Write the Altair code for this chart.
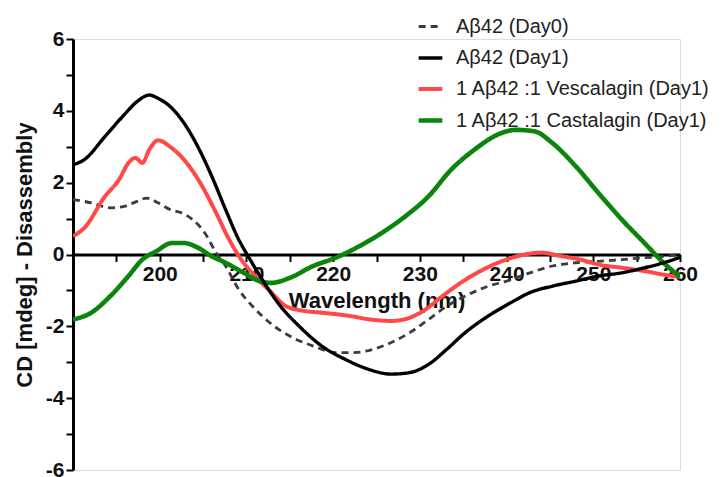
import altair as alt
import pandas as pd

# Series names (legend order)
series_names = [
    "Aβ42 (Day0)",
    "Aβ42 (Day1)",
    "1 Aβ42 :1 Vescalagin (Day1)",
    "1 Aβ42 :1 Castalagin (Day1)",
]
series_colors = ["#3c3c3c", "#000000", "#ff4848", "#0b840b"]
series_dash = [[7, 5], [1, 0], [1, 0], [1, 0]]
series_width = [2.8, 4.6, 4.6, 4.6]

# Aβ42, day 0
day0_wl = [190, 192.1, 194.3, 195.9, 197.4, 198.5, 199.8, 201.2, 202.5, 203.8, 205.2, 206.5,
           207.6, 209.1, 210.7, 212.9, 215, 217.7, 220.3, 222.4, 224.6, 226.7, 228.8, 231,
           233.1, 235.2, 237.9, 240, 242.7, 245.3, 248, 250.6, 253.3, 255.9, 258.1, 260]
day0_cd = [1.53, 1.44, 1.3, 1.34, 1.48, 1.57, 1.44, 1.25, 1.16, 0.97, 0.6, 0.05,
           -0.32, -0.97, -1.44, -1.94, -2.27, -2.55, -2.73, -2.73, -2.64, -2.45, -2.18, -1.81,
           -1.44, -1.16, -0.88, -0.74, -0.51, -0.32, -0.23, -0.19, -0.14, -0.09, -0.05, 0.0]

# Aβ42, day 1
day1_wl = [190, 191.3, 193.7, 195.9, 197.4, 198.8, 199.8, 201.2, 202.8, 204.4, 206, 207.6,
           209.1, 210.2, 211.8, 213.9, 216.1, 218.7, 221.4, 224, 226.7, 228.8, 231, 233.1,
           235.2, 237.9, 240.5, 242.7, 245.3, 248, 250.6, 253.3, 255.9, 258.1, 260]
day1_cd = [2.5, 2.64, 3.29, 3.89, 4.26, 4.44, 4.35, 4.12, 3.66, 3.0, 2.18, 1.25,
           0.42, -0.05, -0.69, -1.43, -2.0, -2.55, -2.92, -3.19, -3.33, -3.29, -3.06, -2.64,
           -2.18, -1.71, -1.34, -1.06, -0.88, -0.74, -0.6, -0.51, -0.37, -0.23, -0.08]

# Aβ42 + vescalagin, day 1
vesc_wl = [190, 191.3, 193.7, 195.3, 196.4, 197.2, 198, 198.8, 199.8, 201.2, 202.8, 204.9,
           206.5, 208, 209.4, 211, 212.9, 214.5, 216.6, 218.7, 221.9, 224, 226.7, 228.3,
           230.4, 232.6, 234.7, 237.3, 240, 242.1, 244, 246.4, 248.5, 250.6, 253.3, 255.9,
           258.1, 260]
vesc_cd = [0.51, 0.74, 1.62, 2.08, 2.55, 2.69, 2.55, 2.92, 3.18, 3.0, 2.64, 1.9,
           1.16, 0.42, -0.14, -0.6, -1.06, -1.43, -1.57, -1.62, -1.71, -1.8, -1.85, -1.8,
           -1.57, -1.16, -0.79, -0.42, -0.14, 0.0, 0.05, -0.05, -0.14, -0.28, -0.37, -0.46,
           -0.56, -0.62]

# Aβ42 + castalagin, day 1
cast_wl = [190, 192.1, 194.3, 196.4, 198, 199.6, 201.4, 202.8, 204.4, 206, 207.6, 209.7,
           211.5, 212.9, 215, 217.7, 220.3, 223, 225.6, 228.3, 231, 233.6, 236.3, 238.9,
           241.1, 243.2, 245.3, 248, 250.6, 253.3, 255.9, 258.1, 260]
cast_cd = [-1.81, -1.62, -1.16, -0.6, -0.14, 0.09, 0.32, 0.32, 0.19, -0.05, -0.23, -0.51,
           -0.74, -0.79, -0.65, -0.32, -0.09, 0.23, 0.6, 1.06, 1.62, 2.36, 2.92, 3.33,
           3.47, 3.43, 3.1, 2.45, 1.71, 0.97, 0.32, -0.23, -0.62]

# Drawing order of the curves (bottom to top)
draw_order = [
    (series_names[0], day0_wl, day0_cd),
    (series_names[2], vesc_wl, vesc_cd),
    (series_names[3], cast_wl, cast_cd),
    (series_names[1], day1_wl, day1_cd),
]

rows = []
for k, (name, wl, cd) in enumerate(draw_order):
    for i, (w, c) in enumerate(zip(wl, cd)):
        rows.append({"series": name, "wl": w, "cd": c, "ord": k, "i": i})
df = pd.DataFrame(rows)

x_ticks = list(range(190, 261, 5))
y_ticks = list(range(-6, 7, 1))

W, H = 607, 431
FONT = "Liberation Sans"

legend = alt.Legend(
    title=None,
    orient="none",
    legendX=343,
    legendY=-26,
    symbolType="stroke",
    symbolSize=560,
    labelFont=FONT,
    labelFontSize=20,
    labelColor="#222222",
    labelLimit=400,
    rowPadding=7,
    labelOffset=11,
)

common_axis = dict(
    titleFont=FONT,
    titleFontSize=22,
    titleFontWeight="bold",
    titleColor="#111111",
    labelFont=FONT,
    labelFontSize=21,
    labelFontWeight="bold",
    labelColor="#111111",
    labelOverlap=False,
    tickSize=7,
    tickWidth=2,
    tickColor="#000000",
    domainColor="#000000",
    domainWidth=3,
    grid=False,
)

chart = alt.Chart(df).mark_line(interpolate="monotone", clip=True).encode(
    x=alt.X(
        "wl:Q",
        scale=alt.Scale(domain=[190, 260], nice=False, zero=False),
        axis=alt.Axis(
            values=x_ticks,
            labelExpr="datum.value % 10 == 0 && datum.value > 190 ? '' + datum.value : ''",
            offset=-H / 2,
            title="Wavelength (nm)",
            titleX=W / 2,
            titleY=46,
            titleBaseline="middle",
            labelPadding=2,
            labelFlush=False,
            **common_axis,
        ),
    ),
    y=alt.Y(
        "cd:Q",
        scale=alt.Scale(domain=[-6, 6], nice=False, zero=False),
        axis=alt.Axis(
            values=y_ticks,
            labelExpr="datum.value % 2 == 0 ? '' + datum.value : ''",
            title="CD [mdeg] - Disassembly",
            titleAngle=270,
            titleX=-49,
            titleY=H / 2,
            titleAlign="center",
            titleBaseline="middle",
            labelPadding=2,
            **common_axis,
        ),
    ),
    color=alt.Color("series:N", scale=alt.Scale(domain=series_names, range=series_colors), legend=legend),
    strokeDash=alt.StrokeDash("series:N", scale=alt.Scale(domain=series_names, range=series_dash), legend=legend),
    strokeWidth=alt.StrokeWidth("series:N", scale=alt.Scale(domain=series_names, range=series_width), legend=legend),
    detail="ord:O",
    order="i:Q",
).properties(
    width=W,
    height=H,
    autosize=alt.AutoSizeParams(type="none"),
    padding={"left": 73, "top": 39, "right": 42, "bottom": 7},
).configure_view(stroke=None).configure(background="white")

chart.save("out.html", embed_options={"renderer": "svg", "actions": False})
